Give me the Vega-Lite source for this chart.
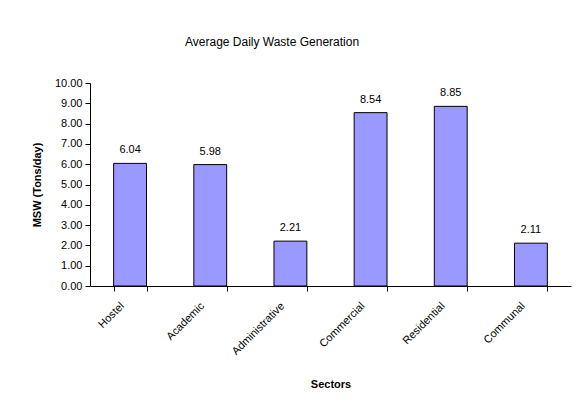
{
  "$schema": "https://vega.github.io/schema/vega-lite/v6.json",
  "width": 481,
  "height": 203,
  "autosize": {"type": "none"},
  "padding": {"left": 90, "top": 83, "right": 8, "bottom": 124},
  "background": "white",
  "config": {
    "font": "Liberation Sans",
    "view": {"stroke": null},
    "axis": {"labelFont": "Liberation Sans", "titleFont": "Liberation Sans", "labelColor": "black", "titleColor": "black", "domainColor": "black", "tickColor": "black", "grid": false}
  },
  "title": {
    "text": "Average Daily Waste Generation",
    "anchor": "start",
    "frame": "group",
    "dx": 95,
    "offset": 28,
    "fontSize": 12,
    "fontWeight": "normal",
    "font": "Liberation Sans",
    "color": "black"
  },
  "data": {
    "values": [
      {"sector": "Hostel", "msw": 6.04},
      {"sector": "Academic", "msw": 5.98},
      {"sector": "Administrative", "msw": 2.21},
      {"sector": "Commercial", "msw": 8.54},
      {"sector": "Residential", "msw": 8.85},
      {"sector": "Communal", "msw": 2.11}
    ]
  },
  "encoding": {
    "x": {
      "field": "sector",
      "type": "nominal",
      "sort": null,
      "scale": {"paddingInner": 0.59, "paddingOuter": 0.295},
      "axis": {
        "title": "Sectors",
        "titleFontSize": 11,
        "titleFontWeight": "bold",
        "titlePadding": 22,
        "labelAngle": -45,
        "labelFontSize": 11,
        "labelAlign": "right",
        "labelBaseline": "middle",
        "labelPadding": 13,
        "labelOffset": -8,
        "tickBand": "extent",
        "tickSize": 5
      }
    },
    "y": {
      "field": "msw",
      "type": "quantitative",
      "scale": {"domain": [0, 10], "nice": false},
      "axis": {
        "title": "MSW (Tons/day)",
        "titleFontSize": 11,
        "titleFontWeight": "bold",
        "titlePadding": 12,
        "format": ".2f",
        "values": [0, 1, 2, 3, 4, 5, 6, 7, 8, 9, 10],
        "labelFontSize": 11,
        "tickSize": 5,
        "labelPadding": 3
      }
    }
  },
  "layer": [
    {
      "mark": {"type": "bar", "fill": "#9999FF", "stroke": "black", "strokeWidth": 1}
    },
    {
      "mark": {"type": "text", "dy": -8, "baseline": "bottom", "fontSize": 11, "font": "Liberation Sans", "color": "black"},
      "encoding": {"text": {"field": "msw", "type": "quantitative", "format": ".2f"}}
    }
  ]
}
